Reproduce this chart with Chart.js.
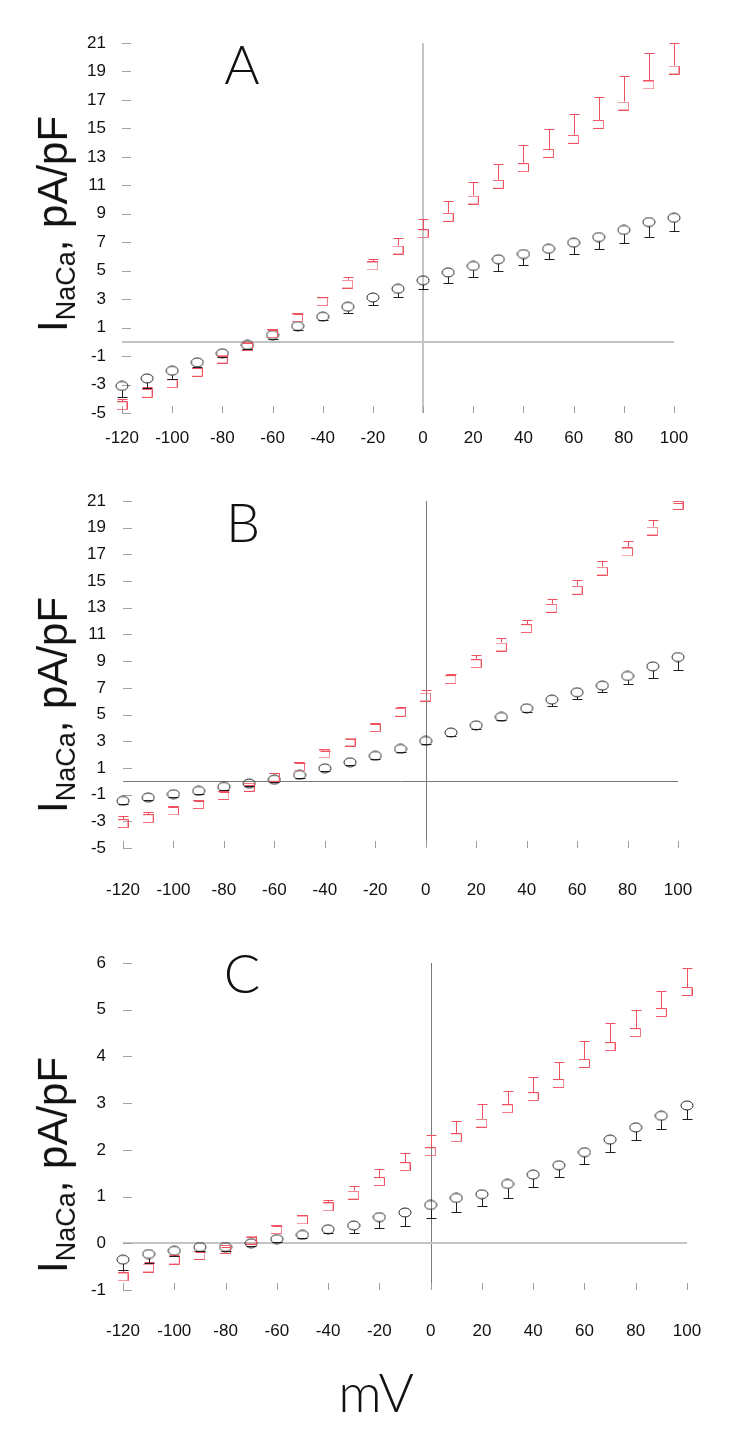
<!DOCTYPE html>
<html><head><meta charset="utf-8">
<script src="https://cdn.jsdelivr.net/npm/chart.js@4.4.1/dist/chart.umd.min.js"></script>
<style>
html,body{margin:0;padding:0;background:#fff;}
body{width:740px;height:1432px;position:relative;overflow:hidden;font-family:"Liberation Sans",Arial,sans-serif;}
.pan{position:absolute;left:0;width:740px;}
.ylab{position:absolute;white-space:nowrap;transform:translate(-50%,-50%) rotate(-90deg);font-size:42px;color:#111;line-height:1;}
.ylab sub{font-size:27px;vertical-align:-0.3em;line-height:1;}
.letter{position:absolute;transform:translate(-50%,-50%);font-family:Lato,"Open Sans","Liberation Sans",sans-serif;font-weight:300;font-size:54px;color:#111;line-height:1;}
.mv{position:absolute;transform:translate(-50%,-50%);font-family:Lato,"Open Sans","Liberation Sans",sans-serif;font-weight:300;font-size:54px;color:#111;line-height:1;}
</style></head>
<body>
<div class="pan" style="top:0;height:470px"><canvas id="cA" width="740" height="470"></canvas></div>
<div class="pan" style="top:470px;height:460px"><canvas id="cB" width="740" height="460"></canvas></div>
<div class="pan" style="top:930px;height:502px"><canvas id="cC" width="740" height="502"></canvas></div>
<div class="ylab" style="left:56px;top:224px">I<sub>NaCa</sub>, pA/pF</div>
<div class="ylab" style="left:56px;top:705px">I<sub>NaCa</sub>, pA/pF</div>
<div class="ylab" style="left:56px;top:1165px">I<sub>NaCa</sub>, pA/pF</div>
<div class="letter" style="left:242px;top:64px">A</div>
<div class="letter" style="left:243px;top:522px">B</div>
<div class="letter" style="left:242px;top:973px">C</div>
<div class="mv" style="left:376px;top:1392px">mV</div>
<script>
// ---- data ----
const mv = [-120,-110,-100,-90,-80,-70,-60,-50,-40,-30,-20,-10,0,10,20,30,40,50,60,70,80,90,100];
const xTicks = [-120,-100,-80,-60,-40,-20,0,20,40,60,80,100];
const yTicksAB = [-5,-3,-1,1,3,5,7,9,11,13,15,17,19,21];
const yTicksC = [-1,0,1,2,3,4,5,6];

const aControl = [-3.1,-2.57,-2.03,-1.44,-0.81,-0.22,0.48,1.11,1.77,2.47,3.12,3.73,4.32,4.88,5.33,5.8,6.17,6.54,6.97,7.36,7.86,8.42,8.72];
const aControlErr = [0.76,0.7,0.6,0.31,0.25,0.25,0.25,0.25,0.25,0.42,0.54,0.6,0.61,0.77,0.75,0.8,0.8,0.74,0.82,0.82,0.94,1.03,0.95];
const aTreated = [-4.49,-3.62,-2.94,-2.14,-1.21,-0.3,0.57,1.69,2.82,4.06,5.33,6.45,7.6,8.75,9.96,11.07,12.24,13.24,14.23,15.28,16.57,18.05,19.1];
const aTreatedErr = [0.5,0.45,0.35,0.3,0.25,0.2,0.25,0.3,0.3,0.47,0.47,0.82,1.0,1.12,1.29,1.45,1.57,1.69,1.76,1.9,2.1,2.25,1.9];

const bControl = [-1.47,-1.22,-0.97,-0.72,-0.42,-0.17,0.12,0.47,0.97,1.42,1.9,2.42,3.02,3.65,4.19,4.82,5.47,6.12,6.67,7.17,7.89,8.61,9.31];
const bControlErr = [0.25,0.2,0.2,0.2,0.2,0.2,0.2,0.2,0.2,0.2,0.2,0.2,0.25,0.25,0.25,0.25,0.3,0.45,0.48,0.48,0.62,0.84,1.0];
const bTreated = [-3.17,-2.8,-2.22,-1.75,-1.07,-0.45,0.3,1.07,2.05,2.94,4.02,5.17,6.31,7.62,8.81,10.06,11.44,12.96,14.31,15.75,17.18,18.75,20.67];
const bTreatedErr = [0.55,0.5,0.3,0.25,0.25,0.2,0.3,0.3,0.25,0.25,0.25,0.4,0.56,0.45,0.63,0.67,0.62,0.67,0.75,0.73,0.8,0.85,0.2];

const cControl = [-0.35,-0.23,-0.16,-0.08,-0.08,0.0,0.09,0.18,0.3,0.38,0.56,0.66,0.82,0.97,1.05,1.27,1.47,1.67,1.95,2.22,2.48,2.73,2.95];
const cControlErr = [0.22,0.19,0.12,0.08,0.08,0.05,0.06,0.06,0.08,0.16,0.23,0.29,0.28,0.3,0.26,0.3,0.27,0.25,0.25,0.26,0.26,0.28,0.29];
const cTreated = [-0.72,-0.53,-0.36,-0.26,-0.13,0.07,0.29,0.5,0.78,1.03,1.32,1.64,1.96,2.26,2.57,2.88,3.14,3.42,3.85,4.21,4.51,4.94,5.39];
const cTreatedErr = [0.15,0.12,0.1,0.08,0.06,0.06,0.08,0.1,0.15,0.19,0.27,0.29,0.36,0.35,0.41,0.39,0.43,0.47,0.47,0.5,0.48,0.45,0.51];

// ---- styles ----
const BLACK = '#1e1e1e';
const RED = 'rgb(238,80,95)';

function makeCircle(){
  const c = document.createElement('canvas'); c.width = 14; c.height = 11;
  const g = c.getContext('2d'); g.strokeStyle = BLACK; g.lineWidth = 1;
  g.beginPath(); g.ellipse(7, 5.5, 6, 4.5, 0, 0, Math.PI*2); g.stroke();
  return c;
}
function makeBracket(){
  const c = document.createElement('canvas'); c.width = 11; c.height = 9;
  const g = c.getContext('2d'); g.strokeStyle = RED; g.lineWidth = 1;
  g.beginPath(); g.moveTo(0, 0.5); g.lineTo(10.5, 0.5); g.lineTo(10.5, 8.5); g.lineTo(0, 8.5); g.stroke();
  return c;
}
const circleImg = makeCircle();
const bracketImg = makeBracket();

function seg(ctx, x1, y1, x2, y2){ ctx.beginPath(); ctx.moveTo(x1, y1); ctx.lineTo(x2, y2); ctx.stroke(); }

const decor = {
  id: 'decor',
  beforeDatasetsDraw(chart, args, o){
    const {ctx, chartArea: a, scales: {x, y}} = chart;
    ctx.save();
    const x0 = Math.round(x.getPixelForValue(0)) + (o.vWidth % 2 ? 0.5 : 0);
    const y0 = Math.round(y.getPixelForValue(0)) + (o.hWidth % 2 ? 0.5 : 0);
    ctx.strokeStyle = o.vColor; ctx.lineWidth = o.vWidth;
    seg(ctx, x0, a.top, x0, a.bottom);
    ctx.strokeStyle = o.hColor; ctx.lineWidth = o.hWidth;
    seg(ctx, a.left, y0, a.right, y0);
    ctx.strokeStyle = '#a0a0a0'; ctx.lineWidth = 1;
    y.ticks.forEach(t => { const py = Math.round(y.getPixelForValue(t.value)) + 0.5; seg(ctx, a.left, py, a.left + 9, py); });
    x.ticks.forEach(t => { const px = Math.round(x.getPixelForValue(t.value)) + 0.5; seg(ctx, px, a.bottom - 7, px, a.bottom); });
    ctx.restore();
  },
  afterDatasetsDraw(chart){
    const {ctx, scales: {y}} = chart;
    ctx.save(); ctx.lineWidth = 1;
    chart.data.datasets.forEach((ds, i) => {
      const meta = chart.getDatasetMeta(i);
      ctx.strokeStyle = ds.borderColor;
      meta.data.forEach((pt, j) => {
        const v = ds.data[j].y, e = ds.err[j];
        const px = Math.round(pt.x) + 0.5;
        const capY = Math.round(y.getPixelForValue(v + ds.dir * e)) + 0.5;
        const edge = pt.y + ds.dir * -ds.half;
        if (ds.dir > 0 ? capY < edge : capY > edge) seg(ctx, px, edge, px, capY);
        seg(ctx, px - 5, capY, px + 5, capY);
      });
    });
    ctx.restore();
  }
};

function build(id, ctrl, ctrlErr, trt, trtErr, yTicks, yMin, yMax, g){
  const tickFont = {family: '"Liberation Sans", Arial, sans-serif', size: 17};
  return new Chart(document.getElementById(id), {
    type: 'scatter',
    data: {datasets: [
      {data: trt.map((v, i) => ({x: mv[i], y: v})), err: trtErr, dir: 1, half: 4.5, clip: false,
       pointStyle: bracketImg, borderColor: RED, backgroundColor: RED, pointRadius: 5},
      {data: ctrl.map((v, i) => ({x: mv[i], y: v})), err: ctrlErr, dir: -1, half: 4.5, clip: false,
       pointStyle: circleImg, borderColor: BLACK, backgroundColor: BLACK, pointRadius: 5}
    ]},
    options: {
      responsive: false, animation: false, events: [],
      layout: {autoPadding: false, padding: {left: 0, top: g.top, right: g.right, bottom: 0}},
      plugins: {legend: {display: false}, tooltip: {enabled: false},
        decor: {vColor: g.vColor, vWidth: g.vWidth, hColor: g.hColor, hWidth: g.hWidth}},
      scales: {
        x: {type: 'linear', min: -120, max: 100,
          grid: {display: false, drawTicks: false}, border: {display: false},
          ticks: {font: tickFont, color: '#111', padding: g.xPad, maxRotation: 0},
          afterBuildTicks: s => { s.ticks = xTicks.map(v => ({value: v})); },
          afterFit: s => { s.height = g.xH; }},
        y: {type: 'linear', min: yMin, max: yMax,
          grid: {display: false, drawTicks: false}, border: {display: false},
          ticks: {font: tickFont, color: '#111', padding: g.yPad},
          afterBuildTicks: s => { s.ticks = yTicks.map(v => ({value: v})); },
          afterFit: s => { s.width = g.yW; }}
      }
    },
    plugins: [decor]
  });
}

build('cA', aControl, aControlErr, aTreated, aTreatedErr, yTicksAB, -5, 21,
  {top: 43, right: 66, xH: 57, xPad: 15, yW: 122, yPad: 16, vColor: '#c4c4c4', vWidth: 2, hColor: '#c4c4c4', hWidth: 2});
build('cB', bControl, bControlErr, bTreated, bTreatedErr, yTicksAB, -5, 21,
  {top: 31, right: 62, xH: 82, xPad: 32, yW: 123, yPad: 17, vColor: '#7a7a7a', vWidth: 1, hColor: '#7a7a7a', hWidth: 1});
build('cC', cControl, cControlErr, cTreated, cTreatedErr, yTicksC, -1, 6,
  {top: 33, right: 53, xH: 142, xPad: 31, yW: 123, yPad: 17, vColor: '#7a7a7a', vWidth: 1, hColor: '#c4c4c4', hWidth: 2});
</script>
</body></html>
